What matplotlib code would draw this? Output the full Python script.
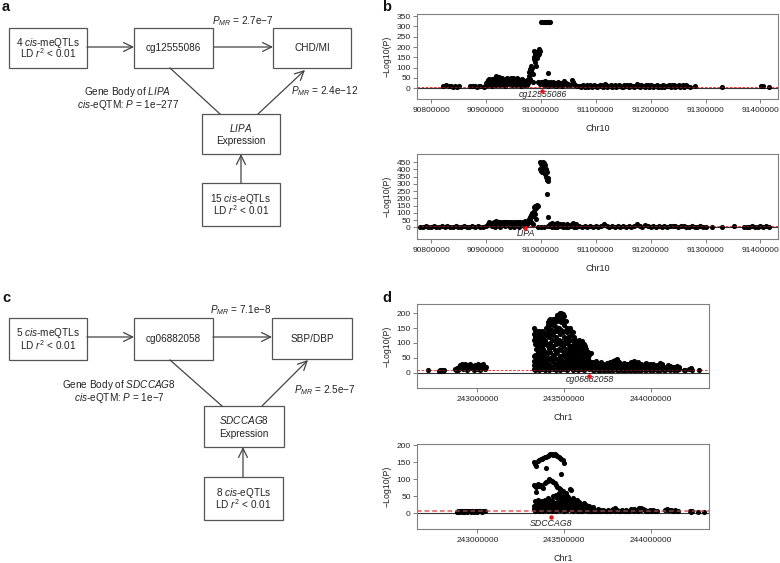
import matplotlib
matplotlib.use('Agg')
import matplotlib.pyplot as plt
from matplotlib.patches import Rectangle
import numpy as np

plt.rcParams['font.family'] = ['Liberation Sans', 'DejaVu Sans']
plt.rcParams['mathtext.fontset'] = 'custom'
plt.rcParams['mathtext.rm'] = 'Liberation Sans'
plt.rcParams['mathtext.it'] = 'Liberation Sans:italic'
plt.rcParams['mathtext.bf'] = 'Liberation Sans:bold'

# ---------------- diagram texts ----------------
a_texts = dict(meqtl=['4 $\\it{cis}$-meQTLs', 'LD $r^2$ < 0.01'], cpg='cg12555086', trait='CHD/MI',
               expr=['$\\it{LIPA}$', 'Expression'], eqtl=['15 $\\it{cis}$-eQTLs', 'LD $r^2$ < 0.01'],
               p1='$P_{MR}$ = 2.7e−7', p2='$P_{MR}$ = 2.4e−12',
               eqtm=['Gene Body of $\\it{LIPA}$', '$\\it{cis}$-eQTM: $P$ = 1e−277'])
c_texts = dict(meqtl=['5 $\\it{cis}$-meQTLs', 'LD $r^2$ < 0.01'], cpg='cg06882058', trait='SBP/DBP',
               expr=['$\\it{SDCCAG8}$', 'Expression'], eqtl=['8 $\\it{cis}$-eQTLs', 'LD $r^2$ < 0.01'],
               p1='$P_{MR}$ = 7.1e−8', p2='$P_{MR}$ = 2.5e−7',
               eqtm=['Gene Body of $\\it{SDCCAG8}$', '$\\it{cis}$-eQTM: $P$ = 1e−7'])

# ---------------- scatter data (position in kb, -log10 P) ----------------
b1_points = [
    (90822, 10), (90828, 14), (90832, 9), (90836, 11), (90840, 7), (90844, 10), (90848, 8), (90851, 10),
    (90871, 11), (90874, 9), (90877, 12), (90880, 10), (90884, 8), (90887, 11), (90890, 9),
    (90897, 8), (90899, 12), (90901, 25), (90903, 38), (90904, 15), (90906, 44), (90908, 20), (90910, 30),
    (90911, 10), (90913, 22), (90915, 35), (90916, 50), (90918, 18), (90919, 60), (90921, 42), (90922, 28),
    (90924, 55), (90926, 15), (90927, 45), (90929, 33), (90930, 50), (90932, 22), (90933, 40), (90935, 12),
    (90936, 47), (90938, 30), (90939, 52), (90941, 20), (90942, 44), (90944, 35), (90946, 48), (90947, 16),
    (90949, 38), (90950, 52), (90952, 25), (90953, 42), (90955, 14), (90956, 50), (90958, 30), (90959, 46),
    (90961, 20), (90962, 38), (90964, 12), (90965, 44), (90967, 28), (90968, 36), (90970, 18), (90971, 30),
    (90973, 22), (90974, 40), (90976, 25), (90977, 35),
    (90902, 32), (90905, 28), (90909, 40), (90912, 45), (90914, 26), (90917, 38), (90920, 30), (90923, 48),
    (90925, 36), (90928, 25), (90931, 42), (90934, 30), (90937, 38), (90940, 44), (90943, 26), (90945, 40),
    (90948, 30), (90951, 36), (90954, 28), (90957, 40), (90960, 32), (90963, 26), (90966, 38), (90969, 24),
    (90972, 34), (90975, 15),
    (90978, 80), (90979, 60), (90980, 95), (90981, 45), (90982, 110), (90983, 85), (90984, 100), (90985, 70),
    (90986, 30), (90987, 140), (90988, 180), (90988, 150), (90989, 125), (90990, 165), (90991, 110),
    (90992, 175), (90993, 145), (90994, 160), (90995, 30), (90996, 190), (90997, 165), (90998, 20),
    (90999, 180), (91000, 28),
    (91000, 320), (91003, 320), (91006, 320), (91009, 320), (91012, 320), (91015, 320), (91017, 320),
    (91014, 72),
    (91002, 25), (91004, 30), (91006, 14), (91008, 35), (91010, 20), (91012, 28), (91014, 12), (91016, 32),
    (91018, 22), (91020, 15), (91022, 28), (91024, 18), (91026, 25), (91028, 12), (91030, 22), (91032, 30),
    (91034, 16), (91036, 26), (91038, 12), (91040, 20), (91043, 36), (91045, 24), (91047, 14), (91050, 22),
    (91053, 16), (91056, 38), (91058, 30), (91060, 20), (91063, 14), (91066, 10), (91069, 12),
    (91072, 10), (91076, 14), (91080, 8), (91084, 16), (91088, 12), (91092, 10), (91096, 15), (91100, 9),
    (91104, 12), (91108, 18), (91112, 10), (91116, 20), (91119, 14), (91123, 9), (91127, 16), (91131, 12),
    (91135, 18), (91139, 10), (91143, 14), (91147, 8), (91151, 16), (91155, 12), (91159, 10), (91163, 15),
    (91167, 9), (91171, 13), (91175, 22), (91179, 11), (91183, 16), (91187, 9), (91191, 14), (91195, 18),
    (91199, 10), (91203, 12), (91207, 9), (91211, 16), (91215, 12), (91219, 8), (91223, 14), (91227, 10),
    (91231, 12), (91235, 9), (91239, 15), (91243, 18), (91247, 11), (91251, 14), (91255, 9), (91259, 16),
    (91263, 12), (91267, 10), (91271, 8),
    (91074, 6), (91078, 12), (91082, 10), (91086, 7), (91090, 14), (91094, 8), (91098, 11), (91102, 6),
    (91106, 9), (91110, 14), (91114, 7), (91118, 10), (91121, 6), (91125, 12), (91129, 8), (91133, 10),
    (91137, 6), (91141, 12), (91145, 10), (91149, 6), (91153, 9), (91157, 14), (91161, 7), (91165, 11),
    (91169, 6), (91173, 10), (91177, 14), (91181, 7), (91185, 12), (91189, 6), (91193, 10), (91197, 8),
    (91201, 14), (91205, 7), (91209, 11), (91213, 6), (91217, 10), (91221, 12), (91225, 7), (91229, 9),
    (91233, 14), (91237, 6), (91241, 11), (91245, 8), (91249, 12), (91253, 6), (91257, 10), (91261, 8),
    (91265, 14),
    (91281, 12), (91330, 8), (91401, 10), (91404, 10), (91415, 8),
]

b2_points = [
    (90780, 5), (90786, 3), (90790, 6), (90795, 4), (90800, 5), (90805, 7), (90810, 3), (90815, 5),
    (90820, 6), (90825, 4), (90830, 8), (90835, 5), (90840, 3), (90845, 6), (90850, 4), (90855, 5),
    (90860, 7), (90865, 3), (90870, 5), (90875, 6), (90880, 4), (90885, 8), (90890, 5), (90895, 3), (90900, 6),
    (90903, 25), (90905, 35), (90907, 30), (90909, 20), (90911, 12),
    (90913, 28), (90915, 40), (90917, 32), (90919, 45), (90921, 22), (90923, 35), (90925, 38), (90927, 30),
    (90929, 25), (90931, 40), (90933, 34), (90935, 28), (90937, 38), (90939, 22), (90941, 35), (90943, 40),
    (90945, 30), (90947, 25), (90949, 38), (90951, 32), (90953, 28), (90955, 36), (90957, 30), (90959, 40),
    (90961, 24), (90963, 35), (90965, 28), (90967, 38), (90969, 30), (90971, 42), (90973, 32), (90975, 26),
    (90916, 5), (90925, 4), (90934, 6), (90943, 3), (90952, 5), (90961, 4), (90970, 6),
    (90975, 20), (90977, 30), (90978, 55), (90979, 45), (90980, 70), (90981, 60), (90982, 85), (90983, 40),
    (90984, 100), (90985, 75), (90986, 20), (90987, 110), (90988, 140), (90989, 95), (90990, 150),
    (90991, 130), (90992, 60), (90993, 155), (90994, 148), (90995, 5),
    (90998, 455), (90999, 400), (91000, 440), (91001, 390), (91002, 420), (91003, 380), (91004, 450),
    (91005, 410), (91006, 445), (91007, 370), (91008, 430), (91009, 350), (91010, 400), (91011, 330),
    (91012, 385), (91013, 320), (91014, 340),
    (91011, 230), (91013, 72),
    (91014, 10), (91016, 25), (91018, 18), (91020, 30), (91022, 12), (91024, 22), (91026, 15), (91029, 28),
    (91032, 10), (91035, 20), (91038, 14), (91041, 25), (91044, 12), (91047, 20), (91050, 16), (91053, 10),
    (91056, 22), (91059, 30), (91062, 15), (91065, 20), (91068, 8),
    (91000, 5), (91005, 3), (91015, 6), (91020, 3), (91025, 5), (91030, 4), (91035, 6), (91040, 3),
    (91045, 5), (91050, 4), (91055, 6), (91060, 3), (91065, 5),
    (91070, 6), (91075, 4), (91080, 10), (91085, 5), (91090, 8), (91095, 4), (91100, 6), (91105, 3),
    (91110, 12), (91115, 20), (91120, 8), (91125, 5), (91130, 10), (91135, 4), (91140, 7), (91145, 3),
    (91150, 9), (91155, 5), (91160, 6), (91165, 4), (91170, 12), (91175, 22), (91180, 9), (91185, 5),
    (91190, 15), (91195, 6), (91200, 4), (91205, 10), (91210, 5), (91215, 12), (91220, 4), (91225, 8),
    (91230, 5), (91235, 10), (91240, 6), (91245, 12), (91250, 4), (91255, 8), (91260, 10), (91265, 5),
    (91270, 4), (91275, 6), (91280, 5), (91285, 3), (91290, 6), (91295, 4), (91300, 5), (91312, 4),
    (91330, 5), (91352, 6), (91370, 4), (91375, 5), (91380, 3), (91385, 6), (91390, 4), (91395, 5),
    (91400, 7), (91405, 4), (91410, 6), (91415, 5),
]

d1_columns = [
    (242717, [8]), (242776, [5]), (242782, [7]), (242790, [4]), (242795, [8]), (242802, [6]), (242808, [10]),
    (242872, [12]), (242878, [8]), (242884, [14]), (242890, [10]), (242896, [18]), (242900, [25]),
    (242906, [15]), (242912, [28]), (242918, [12]), (242924, [22]), (242930, [28]), (242936, [16]),
    (242942, [10]), (242948, [25]), (242954, [20]), (242960, [28]), (242966, [14]), (242972, [22]),
    (242978, [10]), (242984, [26]), (242990, [18]), (242996, [12]), (243002, [28]), (243008, [20]),
    (243014, [10]), (243020, [25]), (243026, [15]), (243032, [28]), (243038, [20]), (243044, [12]), (243050, [18]),
    (243325, [150, 130, 110, 55, 40, 25, 12]), (243333, [145, 120, 95, 60, 35, 20, 10]),
    (243341, [140, 135, 100, 80, 45, 28, 15]), (243349, [138, 112, 90, 70, 50, 30, 12]),
    (243357, [140, 125, 100, 60, 40, 20, 10]), (243365, [132, 115, 85, 75, 55, 35, 15]),
    (243373, [140, 105, 90, 65, 45, 25, 12]), (243381, [135, 120, 80, 60, 30, 18]),
    (243389, [130, 110, 95, 70, 50, 35, 10]), (243397, [150, 125, 100, 55, 40, 22]),
    (243405, [170, 160, 140, 90, 65, 30, 12]), (243413, [178, 150, 120, 80, 45, 25, 10]),
    (243421, [182, 165, 130, 100, 70, 50, 15]), (243429, [175, 145, 110, 85, 40, 20]),
    (243437, [180, 160, 125, 90, 60, 35, 12]), (243445, [170, 140, 105, 75, 50, 28]),
    (243453, [185, 155, 120, 95, 65, 30, 10]), (243461, [195, 175, 140, 100, 70, 45, 15]),
    (243469, [198, 180, 150, 110, 80, 40, 20]), (243477, [200, 185, 130, 95, 55, 30, 10]),
    (243485, [202, 170, 145, 105, 75, 45, 18]), (243493, [198, 178, 135, 90, 60, 25]),
    (243501, [190, 160, 120, 100, 65, 35, 12]), (243509, [175, 145, 110, 80, 50, 20]),
    (243517, [150, 135, 100, 70, 45, 30, 10]), (243525, [145, 120, 95, 60, 40, 22]),
    (243533, [150, 110, 85, 75, 50, 30, 15]), (243541, [140, 125, 90, 65, 35, 20]),
    (243549, [135, 105, 80, 55, 40, 25, 10]), (243557, [120, 95, 75, 50, 30, 15]),
    (243565, [110, 90, 70, 55, 35, 20, 12]), (243573, [100, 85, 60, 45, 30, 15]),
    (243581, [105, 80, 65, 40, 25, 10]), (243589, [110, 90, 55, 35, 20]),
    (243597, [100, 75, 60, 40, 28, 12]), (243605, [108, 85, 50, 30, 18]),
    (243613, [95, 70, 45, 25, 10]), (243621, [90, 65, 40, 30, 15]),
    (243629, [80, 55, 35, 20]), (243637, [70, 50, 30, 15]), (243645, [60, 40, 25, 12]), (243655, [65, 35, 20]),
    (243665, [35, 20, 10]), (243675, [30, 15, 8]), (243685, [38, 22, 12]), (243695, [32, 18, 10]),
    (243705, [28, 15, 8]), (243715, [35, 22, 12]), (243725, [30, 18, 10]), (243735, [25, 14, 8]),
    (243745, [32, 20, 12]), (243755, [28, 16, 10]), (243765, [35, 22, 8]), (243775, [30, 18, 12]),
    (243785, [38, 20, 10]), (243795, [42, 25, 12]), (243805, [45, 28, 10]), (243815, [35, 20, 8]),
    (243825, [30, 18, 12]), (243835, [28, 15, 10]), (243845, [32, 20, 8]), (243855, [25, 14, 10]),
    (243865, [30, 18, 12]), (243875, [28, 16, 8]), (243885, [35, 20, 10]), (243895, [30, 15, 12]),
    (243905, [38, 22, 8]), (243915, [32, 18, 10]), (243925, [35, 20, 12]), (243935, [28, 15, 8]),
    (243945, [30, 18, 10]), (243955, [25, 14, 12]), (243965, [28, 16, 8]), (243975, [32, 20, 10]),
    (243985, [25, 14, 12]), (243995, [30, 18, 8]), (244005, [22, 12]), (244015, [28, 15, 10]),
    (244025, [20, 12]), (244035, [25, 14, 8]), (244045, [18, 10]), (244055, [32, 15, 10]),
    (244065, [28, 12]), (244075, [20, 10]), (244085, [15, 8]), (244100, [25, 12]), (244110, [22, 10]),
    (244120, [20, 12]), (244135, [18, 8]), (244150, [22, 10]), (244165, [18, 12]),
    (244190, [8]), (244200, [10]), (244222, [12]), (244230, [14]), (244240, [10]), (244280, [8]),
]

d2_columns = [
    (242882, [5]), (242888, [7]), (242894, [4]), (242900, [6]), (242906, [8]), (242912, [5]), (242918, [7]),
    (242924, [4]), (242930, [6]), (242936, [8]), (242942, [5]), (242948, [7]), (242954, [6]), (242960, [8]),
    (242966, [5]), (242972, [7]), (242978, [4]), (242984, [6]), (242990, [8]), (242996, [5]), (243002, [7]),
    (243010, [6]), (243018, [8]), (243026, [5]), (243034, [7]), (243042, [6]),
    (243325, [150, 82, 20, 12]), (243333, [145, 80, 35, 15, 8]), (243341, [140, 78, 61, 25, 10]),
    (243349, [152, 85, 40, 18]), (243357, [155, 80, 30, 12, 6]), (243365, [158, 82, 22, 10]),
    (243373, [160, 78, 35, 15]), (243381, [162, 75, 28, 8]), (243389, [165, 88, 40, 20, 10]),
    (243397, [166, 132, 92, 30, 12]), (243405, [168, 95, 45, 18, 8]), (243413, [170, 100, 35, 15]),
    (243421, [174, 98, 28, 10]), (243429, [175, 95, 40, 20, 6]), (243437, [172, 92, 50, 25, 12]),
    (243445, [173, 88, 30, 15]), (243453, [172, 82, 55, 22, 8]), (243461, [168, 78, 45, 30, 12]),
    (243469, [165, 75, 60, 35, 15]), (243477, [162, 72, 50, 25, 10]), (243485, [158, 115, 68, 40, 18]),
    (243493, [155, 65, 45, 28, 12]), (243501, [148, 55, 35, 20, 8]), (243509, [60, 42, 30, 15]),
    (243517, [52, 38, 25, 10]), (243525, [48, 35, 20, 12]), (243533, [70, 40, 28, 15]),
    (243541, [68, 35, 22, 10]), (243549, [45, 30, 18, 8]), (243557, [40, 28, 15]), (243565, [35, 25, 12]),
    (243573, [38, 22, 10]), (243581, [30, 20, 8]), (243589, [32, 18, 10]), (243597, [28, 15, 6]),
    (243605, [25, 12, 8]), (243613, [30, 18, 10]), (243621, [22, 12]), (243629, [25, 10]),
    (243637, [18, 8]), (243645, [20, 10]), (243655, [15, 8]), (243665, [18, 6]),
    (243675, [10]), (243685, [8]), (243695, [12, 6]), (243705, [9]), (243715, [7]), (243725, [10]),
    (243735, [8]), (243745, [6]), (243755, [9]), (243765, [7]), (243775, [10]), (243785, [12]),
    (243795, [15, 8]), (243805, [10]), (243815, [8]), (243825, [7]), (243835, [9]), (243845, [8]),
    (243855, [10]), (243865, [7]), (243875, [8]), (243885, [12]), (243895, [10]), (243905, [14, 8]),
    (243915, [10]), (243925, [8]), (243935, [15, 9]), (243945, [16, 10]), (243955, [12]), (243965, [9]),
    (243975, [8]), (243985, [7]), (243995, [10]), (244005, [8]), (244015, [9]), (244025, [7]), (244035, [8]),
    (244085, [10]), (244092, [12]), (244100, [11]), (244108, [9]), (244118, [10]), (244128, [8]),
    (244140, [9]), (244150, [7]), (244160, [8]),
    (244225, [6]), (244232, [5]), (244238, [7]), (244270, [5]), (244310, [5]),
]

# highlighted probe/gene: (name, position kb, marker value)
b1_target = ('cg12555086', 91003, -12)
b2_target = ('LIPA', 90972, -7)
d1_target = ('cg06882058', 243646, -10)
d2_target = ('SDCCAG8', 243423, -10)

b_xticks = [90800000, 90900000, 91000000, 91100000, 91200000, 91300000, 91400000]
d_xticks = [243000000, 243500000, 244000000]


def expand_points(pts):
    x = np.array([p[0] for p in pts], dtype=float) * 1000
    y = np.array([p[1] for p in pts], dtype=float)
    return x, y


def expand_columns(cols):
    xs, ys = [], []
    for pos, vals in cols:
        for v in vals:
            xs.append(pos * 1000)
            ys.append(v)
    return np.array(xs, float), np.array(ys, float)


W, H = 780, 563
fig = plt.figure(figsize=(7.8, 5.63), dpi=100)
canvas = fig.add_axes([0, 0, 1, 1])
canvas.set_xlim(0, W)
canvas.set_ylim(H, 0)
canvas.axis('off')

FS = 7.2
EC = '#555555'


def box(x0, y0, x1, y1):
    canvas.add_patch(Rectangle((x0, y0), x1 - x0, y1 - y0, fill=False, ec=EC, lw=0.9))


def two_lines(cx, cy, lines):
    canvas.text(cx, cy - 2.5, lines[0], ha='center', va='baseline', fontsize=FS, color='#222')
    canvas.text(cx, cy + 10.5, lines[1], ha='center', va='baseline', fontsize=FS, color='#222')


def arrow(p0, p1):
    canvas.annotate('', xy=p1, xytext=p0,
                    arrowprops=dict(arrowstyle='->,head_length=0.65,head_width=0.32', lw=0.9, color='#444',
                                    shrinkA=0, shrinkB=0, mutation_scale=10))


def diagram(t, boxes, arrows_, line, ptxt, eqtm_pos):
    for key, (x0, y0, x1, y1) in boxes.items():
        box(x0, y0, x1, y1)
        cx, cy = (x0 + x1) / 2, (y0 + y1) / 2
        if isinstance(t[key], list):
            two_lines(cx, cy, t[key])
        else:
            canvas.text(cx, cy, t[key], ha='center', va='center', fontsize=FS, color='#222')
    for p0, p1 in arrows_:
        arrow(p0, p1)
    canvas.plot([line[0][0], line[1][0]], [line[0][1], line[1][1]], color='#444', lw=0.9)
    canvas.text(ptxt[0][0], ptxt[0][1], t['p1'], ha='center', va='center', fontsize=FS, color='#222')
    canvas.text(ptxt[1][0], ptxt[1][1], t['p2'], ha='center', va='center', fontsize=FS, color='#222')
    canvas.text(eqtm_pos[0], eqtm_pos[1], t['eqtm'][0], ha='center', va='center', fontsize=FS, color='#222')
    canvas.text(eqtm_pos[0], eqtm_pos[1] + 13, t['eqtm'][1], ha='center', va='center', fontsize=FS, color='#222')


diagram(a_texts,
        dict(meqtl=(9, 28, 87, 68), cpg=(134, 28, 213, 68), trait=(273, 28, 351, 68),
             expr=(202, 114, 280, 154), eqtl=(202, 183, 280, 226)),
        [((87, 47), (134, 47)), ((214, 47), (273, 47)), ((258, 114), (305, 70)), ((241, 183), (241, 154))],
        ((170, 68), (220, 114)),
        ((243, 21), (325, 91)), (128, 92))

diagram(c_texts,
        dict(meqtl=(9, 318, 87, 360), cpg=(134, 318, 213, 360), trait=(272, 318, 352, 359),
             expr=(204, 406, 284, 447), eqtl=(204, 477, 283, 520)),
        [((87, 337), (134, 337)), ((213, 337), (272, 337)), ((262, 406), (308, 360)), ((243, 477), (243, 447))],
        ((170, 360), (222, 406)),
        ((241, 310), (325, 390)), (119, 385))

for lab, (x, y) in zip('abcd', [(2, 11), (382, 11), (2, 302), (382, 302)]):
    canvas.text(x, y, lab, fontsize=10.5, fontweight='bold', ha='left', va='baseline', color='#111')


def manhattan(rect_px, x, y, xlim, ylim, yticks, xticks, xlabel, target, lab_off, thr_style):
    x0, y0, x1, y1 = rect_px
    ax = fig.add_axes([x0 / W, 1 - y1 / H, (x1 - x0) / W, (y1 - y0) / H])
    ax.set_xlim(*xlim)
    ax.set_ylim(*ylim)
    ax.axhline(0, color='#333', lw=0.8, zorder=1)
    ax.axhline(8, color=thr_style[0], lw=thr_style[1], ls=(0, (3, 2)), zorder=1)
    ax.plot(x, y, 'o', color='black', ms=3.7, mew=0, zorder=2)
    ax.axhline(8, color=thr_style[0], lw=thr_style[1], ls=(0, (3, 2)), zorder=3, alpha=0.6)
    name, pos, val = target
    ax.plot([pos * 1000], [val], 'o', color='#e8141c', ms=3.2, mew=0, zorder=4)
    ax.text(pos * 1000, lab_off, name, style='italic', fontsize=6.3, ha='center', va='center', color='#222')
    for s in ax.spines.values():
        s.set_color('#808080')
        s.set_linewidth(0.8)
    ax.set_yticks(yticks)
    ax.set_xticks(xticks)
    ax.set_xticklabels([str(v) for v in xticks])
    ax.tick_params(axis='both', direction='out', length=3, width=0.7, color='#808080',
                   labelsize=6, labelcolor='#222', pad=1.5)
    ax.tick_params(axis='x', pad=3)
    ax.set_xlabel(xlabel, fontsize=6.5, color='#222')
    ax.set_ylabel('−Log10(P)', fontsize=6.3, color='#222')
    ax.xaxis.set_label_coords(0.5, -25 / (y1 - y0))
    ax.yaxis.set_label_coords(-(417 - 392) / (x1 - x0), 0.5)
    return ax


bx1, by1 = expand_points(b1_points)
bx2, by2 = expand_points(b2_points)
dx1, dy1 = expand_columns(d1_columns)
dx2, dy2 = expand_columns(d2_columns)

manhattan((417, 14, 778, 99), bx1, by1, (90774500, 91432000), (-52, 360), range(0, 351, 50), b_xticks,
          'Chr10', b1_target, -29, ('#e03030', 0.6))
manhattan((417, 154, 778, 239), bx2, by2, (90774500, 91432000), (-81, 507), range(0, 451, 50), b_xticks,
          'Chr10', b2_target, -41, ('#e03030', 0.6))
manhattan((417, 304, 709, 388), dx1, dy1, (242652000, 244336000), (-52, 231), range(0, 201, 50), d_xticks,
          'Chr1', d1_target, -22, ('#e03030', 0.6))
manhattan((417, 444, 709, 529), dx2, dy2, (242652000, 244336000), (-46, 203), range(0, 201, 50), d_xticks,
          'Chr1', d2_target, -30, ('#e87070', 1.1))

fig.savefig('out.png', dpi=100)
